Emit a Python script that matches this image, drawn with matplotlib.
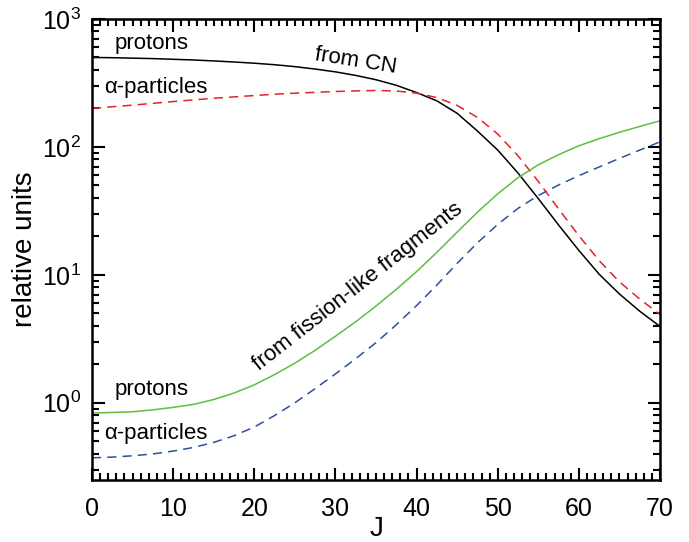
import matplotlib
matplotlib.use("Agg")
from matplotlib import pyplot as plt
from matplotlib.ticker import MultipleLocator, LogLocator, NullFormatter
import numpy as np

plt.rcParams['font.family'] = ['Liberation Sans', 'DejaVu Sans']
plt.rcParams['mathtext.fontset'] = 'custom'
plt.rcParams['mathtext.rm'] = 'Liberation Sans'
plt.rcParams['mathtext.it'] = 'Liberation Sans:italic'

# angular momentum grid
J = [0, 2.5, 5, 7.5, 10, 12.5, 15, 17.5, 20, 22.5, 25, 27.5, 30, 32.5, 35,
     37.5, 40, 42.5, 45, 47.5, 50, 52.5, 55, 57.5, 60, 62.5, 65, 67.5, 70]

# emission from the compound nucleus
cn_protons = [500, 498, 494, 490, 484, 478, 470, 461, 451, 439, 424, 406, 386,
              362, 335, 303, 266, 229, 183, 133, 94.4, 62.4, 39.4, 24.5, 15.5,
              10.1, 7.08, 5.19, 3.95]
cn_alphas = [200, 206, 212, 219, 226, 233, 240, 246, 252, 258, 263, 267, 271,
             274, 276, 273.5, 263, 243, 211, 170, 126, 85.1, 53.7, 32.7, 20.2,
             12.9, 8.81, 6.46, 4.90]

# emission from fission-like fragments
ff_protons = [0.83, 0.84, 0.85, 0.88, 0.92, 0.97, 1.06, 1.19, 1.38, 1.66, 2.04,
              2.57, 3.31, 4.3, 5.7, 7.7, 10.6, 15.0, 21.6, 30.9, 43, 57.5,
              72.5, 87, 102, 116, 130, 144.5, 160]
ff_alphas = [0.371, 0.376, 0.385, 0.398, 0.419, 0.447, 0.490, 0.552, 0.646,
             0.794, 1.0, 1.29, 1.68, 2.21, 2.95, 4.07, 5.75, 8.32, 12.3, 17.8,
             24.8, 33.1, 41.7, 50.4, 59.6, 69.7, 81.3, 94.4, 109.6]

fig = plt.figure(figsize=(6.89, 5.42), dpi=100)
ax = fig.add_axes([0.1335, 0.1144, 0.8245, 0.8506])

ax.plot(J, cn_protons, color='black', lw=1.1)
ax.plot(J, cn_alphas, color='#e8202a', lw=1.1, dashes=(6, 4))
ax.plot(J, ff_protons, color='#5cbf40', lw=1.1)
ax.plot(J, ff_alphas, color='#2d4fa0', lw=1.1, dashes=(6, 4))

ax.set_yscale('log')
ax.set_xlim(0, 70)
ax.set_ylim(0.249, 1000)

ax.xaxis.set_major_locator(MultipleLocator(10))
ax.xaxis.set_minor_locator(MultipleLocator(1))
ax.yaxis.set_major_locator(LogLocator(base=10))
ax.yaxis.set_minor_locator(LogLocator(base=10, subs=np.arange(2, 10)))
ax.yaxis.set_minor_formatter(NullFormatter())

ax.tick_params(which='both', direction='in', top=True, right=True,
               labelsize=18, width=1.5)
ax.tick_params(axis='x', which='both', pad=12)
ax.tick_params(axis='y', which='both', pad=8)
ax.tick_params(which='major', length=9)
ax.tick_params(which='minor', length=5)
for s in ax.spines.values():
    s.set_linewidth(1.8)

ax.set_xlabel('J', fontsize=20, labelpad=-3)
ax.set_ylabel('relative units', fontsize=20, labelpad=3)

lbl = dict(fontsize=16, ha='center', va='center')
ax.text(7.4, 640, 'protons', **lbl)
ax.text(7.9, 290, '\u03b1-particles', **lbl)
ax.text(32.5, 470, 'from CN', rotation=-9, **lbl)
ax.text(7.4, 1.28, 'protons', **lbl)
ax.text(7.9, 0.58, '\u03b1-particles', **lbl)
ax.text(32.8, 8.0, 'from fission-like fragments', rotation=38, **lbl)

fig.savefig('out.png', dpi=100)
